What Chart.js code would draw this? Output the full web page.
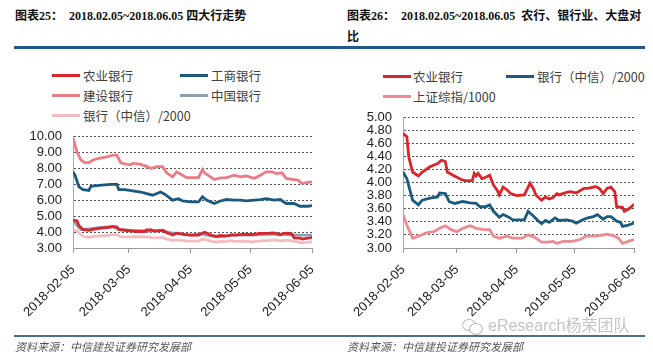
<!DOCTYPE html>
<html><head><meta charset="utf-8">
<script src="https://cdn.jsdelivr.net/npm/chart.js@4"></script>
<style>
html,body{margin:0;padding:0;background:#fff;}
body{width:653px;height:356px;position:relative;overflow:hidden;font-family:"Noto Sans CJK SC",sans-serif;}
.abs{position:absolute;white-space:nowrap;}
.title{font-family:"Liberation Serif","Noto Sans CJK SC",serif;font-weight:700;font-size:12px;line-height:14px;color:#111;}
.rule{position:absolute;height:3px;background:#1f5a8a;top:46px;}
.frule{position:absolute;height:1.5px;background:#4f6f86;top:335px;}
.leg{position:absolute;font-size:12.5px;line-height:16px;color:#404040;white-space:nowrap;}
.sw{position:absolute;height:3px;width:28px;}
.foot{position:absolute;font-style:italic;font-size:11px;color:#555;line-height:13px;top:340px;white-space:nowrap;}
canvas{position:absolute;top:0;}
</style></head><body>

<div class="abs title" style="left:15px;top:9px;">图表25：&nbsp; 2018.02.05~2018.06.05 四大行走势</div>
<div class="abs title" style="left:347px;top:9px;">图表26：&nbsp; 2018.02.05~2018.06.05&nbsp; 农行、银行业、大盘对</div>
<div class="abs title" style="left:347px;top:30px;">比</div>
<div class="rule" style="left:14px;width:631px;"></div>

<div class="sw" style="left:52px;top:74px;background:#d9252b;"></div><div class="leg" style="left:83px;top:68px;">农业银行</div>
<div class="sw" style="left:180px;top:74px;background:#1b5a7e;"></div><div class="leg" style="left:211px;top:68px;">工商银行</div>
<div class="sw" style="left:52px;top:94px;background:#ec7c83;"></div><div class="leg" style="left:83px;top:88px;">建设银行</div>
<div class="sw" style="left:180px;top:94px;background:#8d9db2;"></div><div class="leg" style="left:211px;top:88px;">中国银行</div>
<div class="sw" style="left:52px;top:114px;background:#f4bcc0;"></div><div class="leg" style="left:83px;top:108px;">银行（中信）/2000</div>

<div class="sw" style="left:383px;top:75px;background:#d9252b;"></div><div class="leg" style="left:413px;top:69px;">农业银行</div>
<div class="sw" style="left:506px;top:75px;background:#1b5a7e;"></div><div class="leg" style="left:537px;top:69px;">银行（中信）/2000</div>
<div class="sw" style="left:383px;top:95px;background:#ee8a92;"></div><div class="leg" style="left:413px;top:89px;">上证综指/1000</div>

<canvas id="c1" width="330" height="356" style="left:0px;"></canvas>
<canvas id="c2" width="323" height="356" style="left:330px;"></canvas>

<div class="abs" style="left:462px;top:318px;width:22px;height:16px;">
  <div style="position:absolute;left:0;top:1px;width:12px;height:10px;border:1.3px solid #b8b8b8;border-radius:50%;"></div>
  <div style="position:absolute;left:7px;top:5px;width:12px;height:10px;border:1.3px solid #b8b8b8;border-radius:50%;background:#fff;"></div>
</div>
<div class="abs" style="left:488px;top:316px;font-family:'Liberation Sans','Noto Sans CJK SC',sans-serif;font-size:16px;line-height:20px;color:#c4c4c4;">eResearch杨荣团队</div>

<div class="frule" style="left:14px;width:631px;"></div>
<div class="foot" style="left:15px;">资料来源：中信建投证券研究发展部</div>
<div class="foot" style="left:347px;">资料来源：中信建投证券研究发展部</div>

<script>
const dayTicks = [0, 28, 59, 89, 120];
const tickLabels = ['2018-02-05', '2018-03-05', '2018-04-05', '2018-05-05', '2018-06-05'];

// 农业银行
const abcDays = [0,2,3,5,8,10,14,18,20,22,23,26,30,32,36,37,38,39,41,43,45,47,49,50,52,54,56,59,63,66,68,69,72,74,76,78,80,81,85,87,90,94,96,99,100,102,104,106,108,110,111,114,115,118,120];
const abcValues = [4.75,4.70,4.39,4.16,4.10,4.16,4.24,4.29,4.34,4.32,4.16,4.11,4.05,4.03,4.03,4.14,4.10,4.14,4.06,4.08,4.11,3.96,3.88,3.81,3.93,3.89,3.83,3.80,3.81,3.99,3.89,3.81,3.73,3.78,3.75,3.77,3.83,3.81,3.85,3.86,3.84,3.91,3.91,3.93,3.94,3.91,3.83,3.91,3.93,3.86,3.63,3.62,3.56,3.61,3.67];

// 银行（中信）/2000
const citicDays = [0,2,5,8,10,14,18,19,22,24,27,31,35,38,40,43,45,47,50,52,55,57,62,63,65,68,70,72,74,76,79,81,85,88,90,94,96,99,101,104,106,108,111,113,114,117,120];
const citicValues = [4.16,4.06,3.73,3.66,3.73,3.76,3.78,3.84,3.83,3.71,3.68,3.71,3.69,3.68,3.63,3.63,3.66,3.56,3.47,3.51,3.47,3.43,3.43,3.43,3.56,3.48,3.42,3.37,3.42,3.39,3.46,3.42,3.43,3.41,3.38,3.44,3.46,3.48,3.51,3.44,3.48,3.48,3.41,3.39,3.33,3.35,3.38];

// 上证综指/1000
const shDays = [0,2,5,8,12,16,19,22,25,28,31,35,38,42,45,47,50,54,57,62,65,68,72,75,78,80,83,88,92,95,99,102,106,109,112,114,117,120];
const shValues = [3.51,3.35,3.15,3.18,3.23,3.25,3.30,3.34,3.28,3.25,3.30,3.34,3.30,3.28,3.28,3.18,3.15,3.18,3.15,3.15,3.20,3.17,3.09,3.09,3.10,3.07,3.10,3.10,3.13,3.18,3.18,3.19,3.21,3.19,3.15,3.07,3.10,3.13];

// 建设银行
const ccbDays = [0,2,4,6,8,10,13,17,20,22,24,26,29,30,34,37,39,42,45,47,50,52,55,57,60,63,65,66,69,71,74,77,81,84,87,91,94,97,100,102,105,107,111,113,115,118,120];
const ccbValues = [9.85,9.0,8.5,8.33,8.33,8.5,8.6,8.7,8.8,8.8,8.33,8.25,8.2,8.3,8.22,8.1,7.97,8.08,8.08,7.7,7.45,7.76,7.55,7.4,7.4,7.4,7.9,7.7,7.45,7.28,7.38,7.4,7.55,7.45,7.5,7.35,7.55,7.76,7.76,7.65,7.7,7.35,7.28,7.24,7.03,7.1,7.13];

// 工商银行
const icbcDays = [0,1,3,5,8,9,13,19,22,23,26,30,34,37,40,44,46,49,50,53,55,59,63,65,67,71,74,77,81,84,87,91,94,97,101,104,107,111,114,118,120];
const icbcValues = [7.76,7.55,6.82,6.65,6.6,6.86,6.92,6.98,6.98,6.65,6.65,6.57,6.5,6.4,6.3,6.5,6.36,6.08,5.99,6.08,5.94,5.88,5.88,6.2,5.99,5.78,5.94,6.03,5.99,5.99,5.94,5.99,6.03,6.08,5.99,6.03,5.78,5.78,5.61,5.61,5.65];

// 中国银行
const bocDays = [0,2,4,8,13,20,23,30,39,45,49,54,59,64,67,72,81,89,97,106,111,120];
const bocValues = [4.74,4.42,4.15,4.2,4.27,4.35,4.15,4.1,4.06,4.1,3.94,3.9,3.8,3.9,3.8,3.7,3.8,3.8,3.86,3.86,3.8,3.8];

function pts(d, v) { return d.map((x, i) => ({ x: x, y: v[i] })); }
function ds(d, v, color) {
  return { data: pts(d, v), borderColor: color, borderWidth: 2.8, pointRadius: 0, tension: 0, fill: false };
}

function makeChart(id, datasets, yMin, yMax, yStep, padTop, padRight) {
  return new Chart(document.getElementById(id), {
    type: 'line',
    data: { datasets: datasets },
    options: {
      responsive: false, animation: false, events: [],
      layout: { padding: { left: 0, right: padRight, top: padTop, bottom: 38 } },
      plugins: { legend: { display: false }, tooltip: { enabled: false } },
      scales: {
        x: {
          type: 'linear', min: 0, max: 120,
          afterBuildTicks: (s) => { s.ticks = dayTicks.map(v => ({ value: v })); },
          afterFit: (s) => { s.height = 70; s.paddingLeft = 0; s.paddingRight = 0; },
          ticks: {
            autoSkip: false, minRotation: 45, maxRotation: 45, padding: 9, color: '#222',
            font: { family: "'Liberation Sans', Arial, sans-serif", size: 13 },
            callback: (v) => { const i = dayTicks.indexOf(v); return i >= 0 ? tickLabels[i] : ''; }
          },
          grid: { drawOnChartArea: false, drawTicks: true, tickLength: 5, color: '#999' },
          border: { display: true, color: '#999', width: 1 }
        },
        y: {
          min: yMin, max: yMax,
          afterFit: (s) => { s.width = 73; s.paddingTop = 0; s.paddingBottom = 0; },
          ticks: { stepSize: yStep, autoSkip: false, padding: 11, color: '#222',
            font: { family: "'Liberation Sans', Arial, sans-serif", size: 13 },
            callback: (v) => Number(v).toFixed(2) },
          grid: { color: '#555', lineWidth: 1, drawTicks: false },
          border: { display: true, color: '#aaa', width: 1, dash: [2, 2] }
        }
      }
    }
  });
}

makeChart('c1', [
  ds(abcDays, abcValues, '#d9252b'),
  ds(citicDays, citicValues, '#f4bcc0'),
  ds(bocDays, bocValues, '#8d9db2'),
  ds(icbcDays, icbcValues, '#1b5a7e'),
  ds(ccbDays, ccbValues, '#ec7c83')
], 3, 10, 1, 136, 18);

makeChart('c2', [
  ds(shDays, shValues, '#ee8a92'),
  ds(citicDays, citicValues, '#1b5a7e'),
  ds(abcDays, abcValues, '#d9252b')
], 3, 5, 0.2, 117, 19);
</script>
</body></html>
